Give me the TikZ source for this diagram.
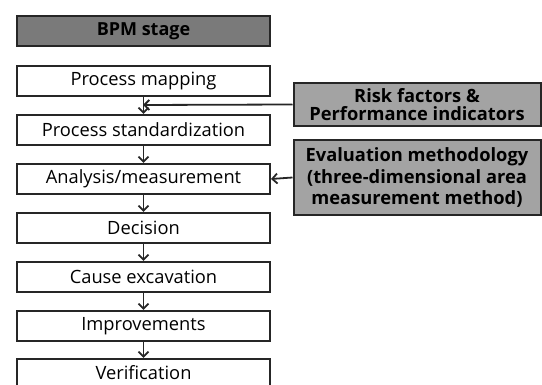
\documentclass[tikz,border=0pt]{standalone}
\usepackage{fontspec}
\setmainfont{Open Sans}
\usetikzlibrary{arrows.meta}
\begin{document}
\begin{tikzpicture}[x=1pt,y=-1pt,
  stage/.style={draw=black!85,line width=2pt,fill=white,minimum width=253pt,minimum height=30pt,inner sep=0pt,font=\fontsize{18.3}{20}\selectfont,anchor=north west},
  head/.style={stage,fill=black!52,font=\bfseries\fontsize{18}{20}\selectfont},
  side/.style={draw=black!85,line width=2pt,fill=black!36,inner sep=0pt,align=center,font=\bfseries\fontsize{18.3}{21.5}\selectfont},
  arr/.style={-{Straight Barb[length=5pt,width=10pt,line width=1.8pt]},line width=1.8pt,draw=black!85}]
\useasboundingbox (0,0) rectangle (542,385);
\node[head] (h) at (16,15) {BPM stage};
\node[stage] (a) at (16,65) {Process mapping};
\node[stage] (b) at (16,114) {Process standardization};
\node[stage] (c) at (16,163) {Analysis/measurement};
\node[stage] (d) at (16,212) {Decision};
\node[stage] (e) at (16,261) {Cause excavation};
\node[stage] (f) at (16,310) {Improvements};
\node[stage,minimum height=27pt] (g) at (16,358) {Verification};
\draw[arr] (a.south) -- (b.north);
\draw[arr] (b.south) -- (c.north);
\draw[arr] (c.south) -- (d.north);
\draw[arr] (d.south) -- (e.north);
\draw[arr] (e.south) -- (f.north);
\draw[arr] (f.south) -- (g.north);
\node[side,minimum width=247pt,minimum height=43pt] (r) at (417,104.5) {Risk factors \&\\[-3pt]Performance indicators};
\node[side,minimum width=247pt,minimum height=75pt] (v) at (417,177.5) {Evaluation methodology\\(three-dimensional area\\measurement method)};
\coordinate (m) at (143,105);
\draw[arr] (r.west) -- (m);
\draw[arr] (v.west) -- (c.east);
\end{tikzpicture}
\end{document}
